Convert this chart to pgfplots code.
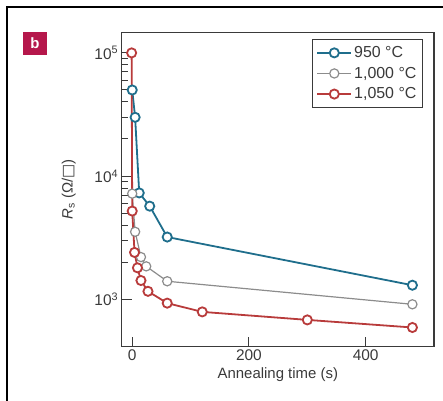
\documentclass[border=0pt]{standalone}
\usepackage{pgfplots}
\pgfplotsset{compat=1.18}
\usepackage{fontspec}
\setmainfont{Liberation Sans}
\newfontfamily\symfont{DejaVu Sans}
\definecolor{c950}{HTML}{1F6E8C}
\definecolor{c1000}{HTML}{8C8C8C}
\definecolor{c1050}{HTML}{B83B3B}
\definecolor{panel}{HTML}{B5174B}
\definecolor{axgray}{HTML}{3A3A3A}

\begin{document}
\begin{tikzpicture}
\begin{axis}[
    at={(121.7bp,54.3bp)}, anchor=south west,
    scale only axis, width=312.3bp, height=314.4bp,
    ymode=log,
    xmin=-18, xmax=517,
    ymin=412, ymax=147000,
    xtick={0,200,400}, xticklabels={0,200,400},
    ytick={1000,10000,100000},
    yticklabels={10\textsuperscript{3},10\textsuperscript{4},10\textsuperscript{5}},
    tick pos=left, tick align=inside,
    major tick length=10bp, minor tick length=6bp,
    every tick/.style={axgray, line width=1bp},
    axis line style={axgray, line width=1.3bp},
    tick label style={font=\fontsize{15.5}{18}\selectfont, text=axgray},
    label style={font=\fontsize{15}{18}\selectfont, text=axgray},
    xlabel={Annealing time (s)},
    ylabel={\textit{R}\textsubscript{s} (Ω/{\symfont □})},
    ylabel style={yshift=12bp},
    legend style={at={(0.965,0.979)}, anchor=north east,
        draw=axgray, line width=1.3bp,
        font=\fontsize{16}{18}\selectfont, text=axgray,
        row sep=4bp, inner xsep=4bp, inner ysep=5bp},
    legend cell align=left,
    legend image code/.code={\draw[mark repeat=2,mark phase=2] plot coordinates {(0cm,0cm) (0.6cm,0cm) (1.2cm,0cm)};},
]

% 950 C
\addplot[color=c950, line width=1.8bp, mark=*, mark size=4.6bp,
    mark options={fill=white, solid, line width=1.8bp}]
    coordinates {
    (0, 50000)
    (5, 30000)
    (12, 7300)
    (30, 5700)
    (60, 3200)
    (480, 1300)
    };
\addlegendentry{950 °C}

% 1,000 C
\addplot[color=c1000, line width=1.2bp, mark=*, mark size=4.6bp,
    mark options={fill=white, solid, line width=1.2bp}]
    coordinates {
    (0, 7200)
    (5, 3530)
    (15, 2200)
    (24, 1850)
    (60, 1400)
    (480, 910)
    };
\addlegendentry{1,000 °C}

% 1,050 C
\addplot[color=c1050, line width=1.8bp, mark=*, mark size=4.6bp,
    mark options={fill=white, solid, line width=1.8bp}]
    coordinates {
    (-1, 100000)
    (0, 5200)
    (4, 2400)
    (9, 1800)
    (15, 1420)
    (27, 1160)
    (60, 930)
    (120, 790)
    (300, 680)
    (480, 590)
    };
\addlegendentry{1,050 °C}
\end{axis}

% panel frame and label
\draw[line width=2bp, black] (7bp,0bp) -- (7bp,394bp) -- (443bp,394bp);
\fill[panel] (23bp,346bp) rectangle (47bp,369bp);
\node[text=white, font=\bfseries\fontsize{15}{18}\selectfont] at (35bp,357.5bp) {b};

\pgfresetboundingbox
\path (0bp,0bp) rectangle (443bp,401bp);
\end{tikzpicture}
\end{document}
